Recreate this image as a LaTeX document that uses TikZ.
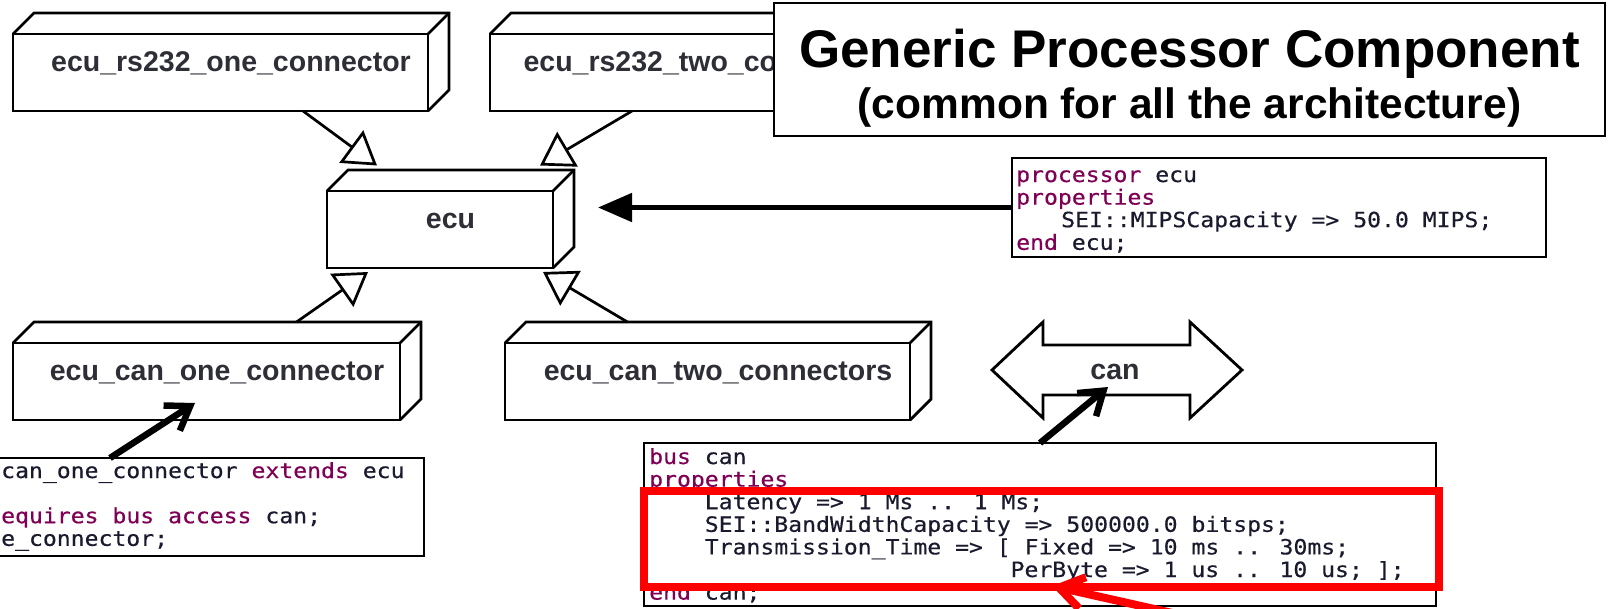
\documentclass[tikz,border=0pt]{standalone}
\usepackage{fontspec}
\usetikzlibrary{arrows.meta,calc}
\newfontfamily\labfont{Liberation Sans}
\newfontfamily\codefont{DejaVu Sans Mono}[FakeStretch=1.1,FakeBold=0.4]
\definecolor{kwcol}{HTML}{7F0055}
\definecolor{codetext}{HTML}{1A1A2E}
\definecolor{labtext}{HTML}{2E2E36}
\definecolor{redline}{HTML}{FF0000}
\newcommand\kw[1]{\textcolor{kwcol}{#1}}
\begin{document}
\begin{tikzpicture}[x=1pt,y=-1pt,
  box3d/.style={draw, line width=2.8pt, fill=white, minimum width=#1, minimum height=77pt, inner sep=0pt, outer sep=0pt},
  depthline/.style={line width=2.8pt, line join=miter},
  lab/.style={anchor=base, inner sep=0pt, text=labtext, font={\labfont\bfseries\fontsize{28.5pt}{30pt}\selectfont}},
  codebox/.style={draw, line width=2.2pt, fill=white, inner sep=0pt, outer sep=0pt},
  codeline/.style={anchor=base west, inner sep=0pt, text=codetext, font={\codefont\fontsize{21pt}{22.6pt}\selectfont}},
  gen/.style={line width=2.7pt, -{Triangle[length=32pt,width=40pt,fill=white]}},
  solidarrow/.style={line width=5pt, -{Triangle[length=34pt,width=28pt]}},
  barbarrow/.style={line width=6.5pt, -{Straight Barb[length=22pt,width=30pt]}},
  redarrow/.style={draw=redline, line width=8pt, -{Straight Barb[length=24pt,width=32pt]}},
  titlefont/.style={anchor=base, inner sep=0pt, font={\labfont\bfseries\fontsize{#1}{#1}\selectfont}}
]
\useasboundingbox (0,0) rectangle (1608,608);
\clip (0,0) rectangle (1608,608);
\fill[white] (0,0) rectangle (1608,608);

% 3D component boxes
\node[box3d=415pt] (b1) at (220.5,72.5) {};
\node[box3d=420pt] (b2) at (700,72.5) {};
\node[box3d=226pt] (ecu) at (440,229.5) {};
\node[box3d=387pt] (b3) at (206.5,381.5) {};
\node[box3d=405pt] (b4) at (707.5,381.5) {};
\foreach \n in {b1,b2,ecu,b3,b4} {
  \draw[depthline] (\n.north west) -- ++(21,-21) -- ($(\n.north east)+(21,-21)$) -- ($(\n.south east)+(21,-21)$) -- (\n.south east);
  \draw[depthline] (\n.north east) -- ++(21,-21);
}
\node[lab] (l1) at ($(b1.north)+(10.5,37)$) {ecu\_rs232\_one\_connector};
\begin{scope}
  \clip (0,0) rectangle (774,608);
  \node[lab] (l2) at ($(b2.north)+(10.5,37)$) {ecu\_rs232\_two\_connectors};
\end{scope}
\node[lab] (l3) at ($(ecu.north)+(10.5,37)$) {ecu};
\node[lab] (l4) at ($(b3.north)+(10.5,37)$) {ecu\_can\_one\_connector};
\node[lab] (l5) at ($(b4.north)+(10.5,37)$) {ecu\_can\_two\_connectors};

% generalizations
\draw[gen] ($(b1.south)+(82.5,0)$) -- ($(ecu.north)+(-63,-25.5)$);
\draw[gen] ($(b2.south)+(-68,0)$) -- ($(ecu.north)+(100,-25.5)$);
\draw[gen] ($(b3.north)+(90,-21)$) -- ($(ecu.south)+(-72,4)$);
\draw[gen] ($(b4.north)+(-80,-21)$) -- ($(ecu.south)+(103,4)$);

% title
\node[draw, line width=2pt, fill=white, minimum width=831pt, minimum height=133pt, inner sep=0pt, outer sep=0pt] (title) at (1189.5,69.5) {};
\node[titlefont=53pt] (tl1) at ($(title.north)+(0,64)$) {Generic Processor Component};
\node[titlefont=42.5pt] (tl2) at ($(title.north)+(0,115)$) {(common for all the architecture)};

% processor ecu code
\node[codebox, minimum width=534pt, minimum height=99pt] (cb1) at (1279,207.5) {};
\foreach \dx/\txt [count=\i] in {0/{\kw{processor} ecu}, 0/{\kw{properties}}, 45/{SEI::MIPSCapacity => 50.0 MIPS;}, 0/{\kw{end} ecu;}}
  \node[codeline] (cbone\i) at (1016+\dx,159.4+22.6*\i) {\txt};
\draw[solidarrow] (cb1.west) -- ($(ecu.east |- cb1.west)+(45,0)$);

% ecu_can_one_connector code
\node[codebox, minimum width=434pt, minimum height=98pt] (cb2) at (207,507) {};
\node[codeline] (cbtwo1) at (1,478) {can\_one\_connector \kw{extends} ecu};
\node[codeline] (cbtwo3) at (1,523.2) {\kw{equires bus access} can;};
\node[codeline] (cbtwo4) at (1,545.8) {e\_connector;};
\draw[barbarrow] ($(cb2.north)+(-97,0)$) -- ($(b3.south)+(-11.5,-17)$);

% can bus
\coordinate (canc) at (1117,370);
\draw[line width=2.8pt, line join=miter] (canc) ++(-125,0) -- ++(51,-48) -- ++(0,23) -- ++(147,0) -- ++(0,-23) -- ++(52,48) -- ++(-52,48) -- ++(0,-23) -- ++(-147,0) -- ++(0,23) -- cycle;
\node[lab] (can) at (1115,379) {can};

% bus can code
\node[codebox, minimum width=792pt, minimum height=163pt] (cb3) at (1040,524.5) {};
\foreach \ind/\txt [count=\i] in {0/{\kw{bus} can}, 0/{\kw{properties}}, 4/{Latency => 1 Ms .. 1 Ms;}, 4/{SEI::BandWidthCapacity => 500000.0 bitsps;}, 4/{Transmission\_Time => [ Fixed => 10 ms .. 30ms;}, 26/{PerByte => 1 us .. 10 us; ];}, 0/{\kw{end} can;}}
  \node[codeline] (cbthree\i) at (649+13.9*\ind,441.4+22.6*\i) {\txt};
\draw[barbarrow] (cb3.north) -- ($(can.base)+(-7,8)$);

% red highlight
\node[draw=redline, line width=7.5pt, minimum width=795pt, minimum height=96pt, inner sep=0pt, outer sep=0pt] (redbox) at (1041.5,539) {};
\coordinate (redtail) at (1190,617);
\draw[redarrow] (redtail) -- ($(redbox.south west)+(408,-1)$);
\end{tikzpicture}
\end{document}
